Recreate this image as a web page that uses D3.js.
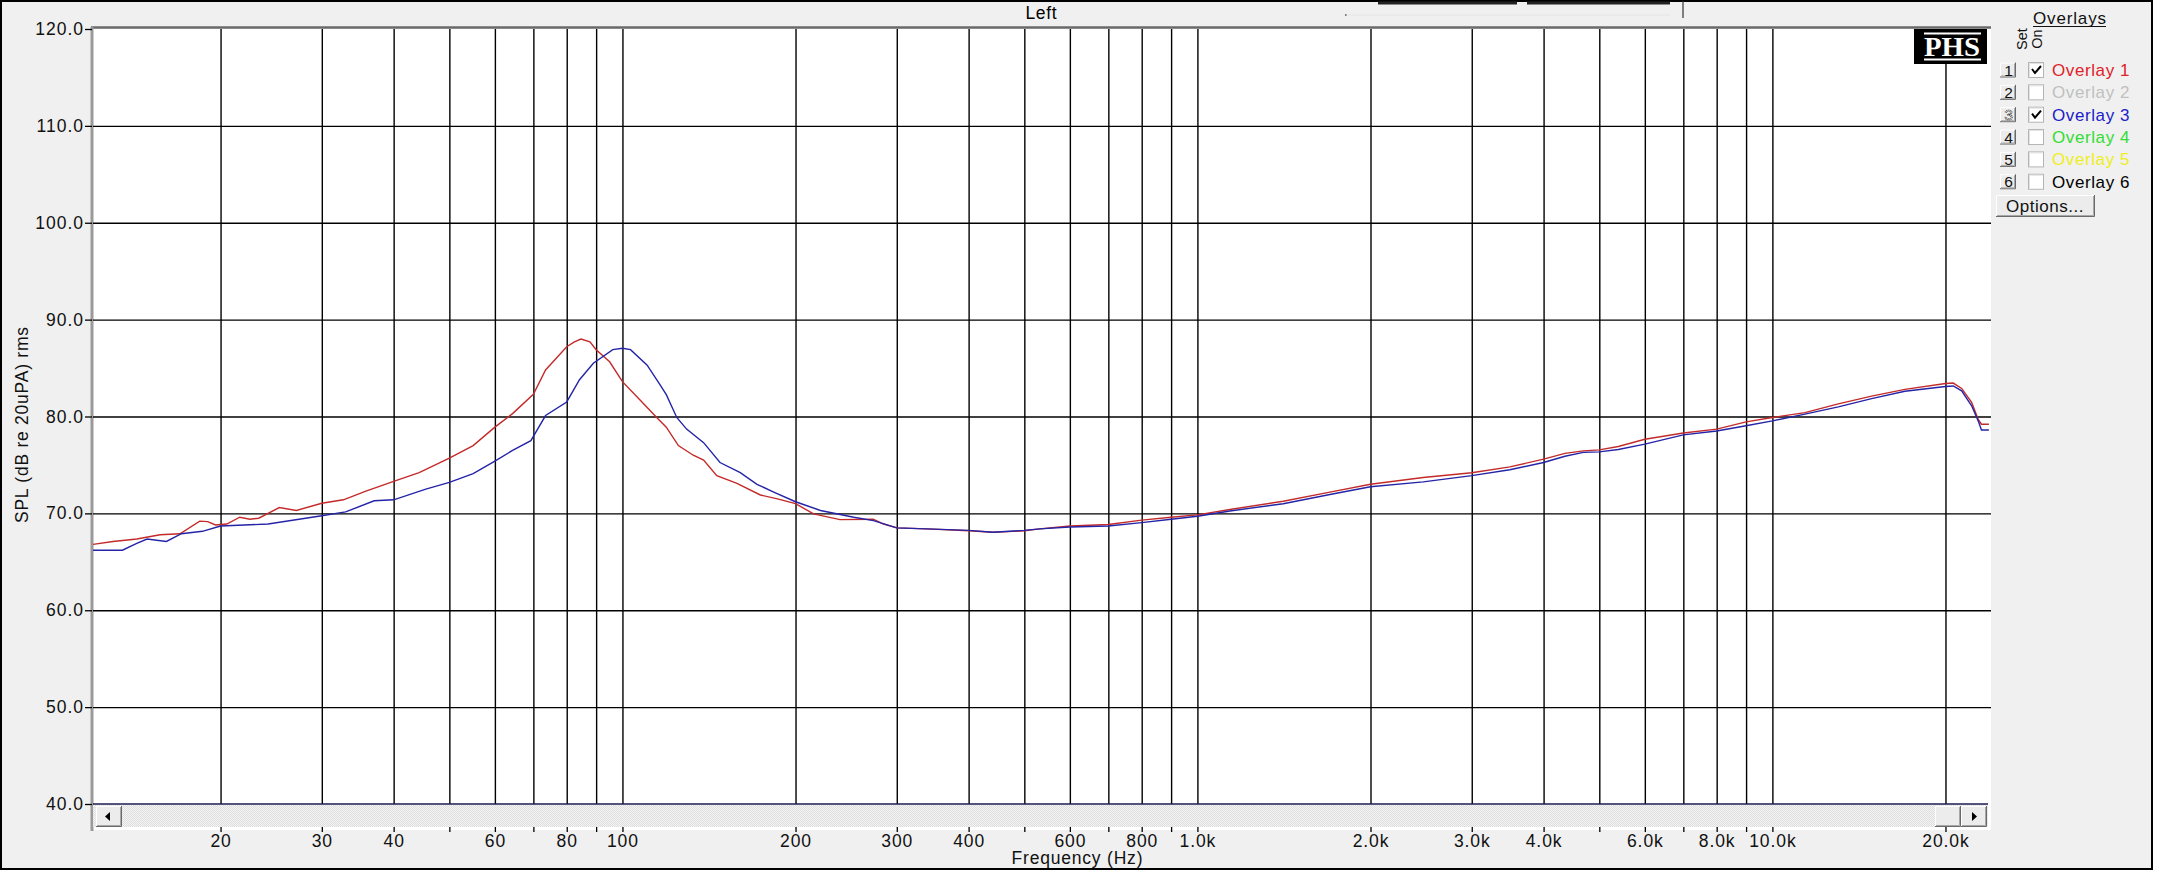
<!DOCTYPE html>
<html>
<head>
<meta charset="utf-8">
<script src="https://cdn.jsdelivr.net/npm/d3@7/dist/d3.min.js"></script>
<style>
  html, body { margin: 0; padding: 0; background: #ffffff; }
  svg { display: block; }
  text { font-family: "Liberation Sans", Arial, sans-serif; }
</style>
</head>
<body>
<svg id="chart" width="2176" height="896"></svg>
<script>
// ---------------- DATA ----------------
const gridFreqs = [20,30,40,50,60,70,80,90,100,200,300,400,500,600,700,800,900,1000,2000,3000,4000,5000,6000,7000,8000,9000,10000,20000];
const labeledFreqs = [20,30,40,60,80,100,200,300,400,600,800,1000,2000,3000,4000,6000,8000,10000,20000];
const freqTickLabels = ["20","30","40","60","80","100","200","300","400","600","800","1.0k","2.0k","3.0k","4.0k","6.0k","8.0k","10.0k","20.0k"];
const splTicks = [40,50,60,70,80,90,100,110,120];
const splTickLabels = ["40.0","50.0","60.0","70.0","80.0","90.0","100.0","110.0","120.0"];

// Overlay 1 (red)
const overlay1Freq = [12,13,14.3,15.7,17,18.4,19,19.6,20.5,21.6,22.5,23.3,25.3,27.1,30,32.7,35.8,40,44.3,50,55,60,64.4,70,73.5,80,82.5,84.7,87.8,90,95,100,107.3,114.7,119.2,125.1,132.8,138.4,145.9,158.2,173.7,186,200,215,239,273,284.5,300,338,400,441,500,532,600,700,800,900,1000,1139,1410,1700,2000,2470,3000,3495,4000,4357,4691,5000,5395,6000,7000,8000,9000,10000,11393,13020,14880,17000,20000,20630,21340,22210,22800,23100,23800];
const overlay1Spl  = [66.8,67.1,67.35,67.8,67.9,69.2,69.15,68.8,68.9,69.6,69.4,69.5,70.6,70.3,71.05,71.4,72.3,73.3,74.2,75.7,77.0,78.9,80.3,82.3,84.8,87.2,87.7,88.0,87.7,86.9,85.65,83.6,81.7,79.9,78.9,77.0,76.0,75.5,73.9,73.1,71.9,71.5,71.0,69.95,69.35,69.4,68.9,68.5,68.4,68.2,68.05,68.2,68.4,68.7,68.85,69.3,69.6,69.85,70.4,71.25,72.2,73.0,73.7,74.2,74.8,75.6,76.2,76.45,76.55,76.9,77.65,78.3,78.7,79.45,79.9,80.4,81.3,82.1,82.8,83.4,83.45,82.9,81.45,79.7,79.2,79.2];

// Overlay 3 (blue)
const overlay3Freq = [12,13.5,14.3,14.9,16.1,17.1,18.6,20,24.2,30,33,37,40,45.5,50,55,60,64.4,69.3,73.5,80,84.2,89,96.2,100,103.3,110.4,116.2,119.2,124.3,129.3,138.4,147.8,160.3,171.4,183.3,200,221,252.6,273.2,300,338,400,441,500,532,600,700,800,900,1000,1139,1410,1700,2000,2470,3000,3495,4000,4357,4691,5000,5395,6000,7000,8000,9000,10000,11393,13020,14880,17000,20000,20630,21340,22210,22800,23100,23800];
const overlay3Spl  = [66.2,66.2,66.9,67.35,67.1,67.9,68.15,68.7,68.9,69.75,70.15,71.3,71.4,72.5,73.2,74.1,75.4,76.5,77.5,80.1,81.5,83.8,85.5,86.9,87.05,86.9,85.3,83.3,82.25,79.9,78.7,77.3,75.25,74.2,73.0,72.2,71.2,70.3,69.6,69.25,68.5,68.4,68.25,68.05,68.25,68.4,68.6,68.7,69.05,69.4,69.7,70.25,71.0,71.95,72.75,73.25,73.9,74.5,75.25,75.9,76.3,76.35,76.6,77.15,78.1,78.5,79.05,79.55,80.25,81.0,81.85,82.6,83.1,83.15,82.65,81.1,79.55,78.6,78.6];

const overlayNames = ["Overlay 1","Overlay 2","Overlay 3","Overlay 4","Overlay 5","Overlay 6"];
const overlayColors = ["#e0202a","#c0c0c0","#1c1cc8","#33dd33","#eeee22","#000000"];
const overlayOn = [true,false,true,false,false,false];

// ---------------- LAYOUT ----------------
const svg = d3.select("#chart");
const L = 93, R = 1991, T = 29, B = 804;
const x = d3.scaleLog().domain([12, 24000]).range([L, R]);
const y = d3.scaleLinear().domain([40, 120]).range([B, T]);

const defs = svg.append("defs");
const pat = defs.append("pattern").attr("id","dither").attr("width",2).attr("height",2).attr("patternUnits","userSpaceOnUse");
pat.append("rect").attr("width",2).attr("height",2).attr("fill","#f4f4f4");
pat.append("rect").attr("width",1).attr("height",1).attr("fill","#dedede");
pat.append("rect").attr("x",1).attr("y",1).attr("width",1).attr("height",1).attr("fill","#dedede");
defs.append("clipPath").attr("id","plotclip").append("rect").attr("x",L).attr("y",T).attr("width",R-L).attr("height",B-T);

// outer window
svg.append("rect").attr("x",1).attr("y",1).attr("width",2151).attr("height",868)
  .attr("fill","#f0f0f0").attr("stroke","#000").attr("stroke-width",2);

// header
svg.append("text").attr("x",1041).attr("y",19).attr("text-anchor","middle")
  .attr("font-size",17.5).attr("textLength",31).attr("lengthAdjust","spacing").attr("fill","#000").text("Left");
svg.append("circle").attr("cx",1346).attr("cy",15).attr("r",1).attr("fill","#555");
svg.append("line").attr("x1",1346).attr("x2",1670).attr("y1",15).attr("y2",15).attr("stroke","#e4e4e4");
svg.append("line").attr("x1",1378).attr("x2",1517).attr("y1",3).attr("y2",3).attr("stroke","#222").attr("stroke-width",3);
svg.append("line").attr("x1",1527).attr("x2",1670).attr("y1",3).attr("y2",3).attr("stroke","#222").attr("stroke-width",3);
svg.append("line").attr("x1",1683).attr("x2",1683).attr("y1",1).attr("y2",18).attr("stroke","#333").attr("stroke-width",1.2);

// plot background (white extends under scrollbar)
svg.append("rect").attr("x",L).attr("y",T).attr("width",R-L).attr("height",830-T).attr("fill","#fff");
// plot top & left borders
svg.append("line").attr("x1",L-2).attr("x2",R).attr("y1",T-1.5).attr("y2",T-1.5).attr("stroke","#6a6a6a").attr("stroke-width",2.5);
svg.append("line").attr("x1",L-1).attr("x2",L-1).attr("y1",T-2).attr("y2",831).attr("stroke","#9a9a9a").attr("stroke-width",3);

// vertical grid
svg.append("g").attr("transform",`translate(0,${B})`)
  .call(d3.axisBottom(x).tickValues(gridFreqs).tickSize(-(B-T)).tickFormat(""))
  .call(g => { g.select(".domain").remove(); g.selectAll("line").attr("stroke","#000").attr("stroke-width",1.4); });

// horizontal grid
svg.append("g").attr("transform",`translate(${L},0)`)
  .call(d3.axisLeft(y).tickValues(splTicks.filter(v => v>40 && v<120)).tickSize(-(R-L)).tickFormat(""))
  .call(g => { g.select(".domain").remove(); g.selectAll("line").attr("stroke","#000").attr("stroke-width",1.4); });

// y axis ticks + labels
svg.append("g").attr("transform",`translate(${L-1},0)`)
  .call(d3.axisLeft(y).tickValues(splTicks).tickSize(7).tickPadding(1)
        .tickFormat(v => splTickLabels[splTicks.indexOf(v)]))
  .call(g => {
    g.select(".domain").remove();
    g.selectAll("line").attr("stroke","#000").attr("stroke-width",1.3);
    g.selectAll("text").attr("font-size",17.5).attr("letter-spacing",1).attr("fill","#111");
  });

// y axis title
svg.append("text").attr("transform","translate(28,425) rotate(-90)").attr("text-anchor","middle")
  .attr("font-size",17.5).attr("textLength",196).attr("lengthAdjust","spacing")
  .attr("fill","#111").text("SPL (dB re 20uPA) rms");

// curves
const line = d3.line().x(d => x(d[0])).y(d => y(d[1]));
const curves = svg.append("g").attr("clip-path","url(#plotclip)");
curves.append("path").datum(d3.zip(overlay1Freq, overlay1Spl))
  .attr("d", line).attr("fill","none").attr("stroke","#c42a2a").attr("stroke-width",1.4);
curves.append("path").datum(d3.zip(overlay3Freq, overlay3Spl))
  .attr("d", line).attr("fill","none").attr("stroke","#2424a8").attr("stroke-width",1.4);

// scrollbar
const sbTop = B + 1, sbBot = 827;
svg.append("rect").attr("x",L).attr("y",sbTop).attr("width",1988-L).attr("height",sbBot-sbTop).attr("fill","url(#dither)");
svg.append("line").attr("x1",L).attr("x2",1988).attr("y1",B).attr("y2",B).attr("stroke","#1a1a50").attr("stroke-width",1.5);
function button3d(g, bx, by, bw, bh) {
  g.append("rect").attr("x",bx).attr("y",by).attr("width",bw).attr("height",bh).attr("fill","#ececec");
  g.append("path").attr("d",`M${bx+0.5},${by+bh}V${by+0.5}H${bx+bw}`).attr("fill","none").attr("stroke","#fff");
  g.append("path").attr("d",`M${bx+bw-0.5},${by}V${by+bh-0.5}H${bx}`).attr("fill","none").attr("stroke","#6a6a6a");
  g.append("path").attr("d",`M${bx+bw-1.5},${by+1}V${by+bh-1.5}H${bx+1}`).attr("fill","none").attr("stroke","#a8a8a8");
}
const sb = svg.append("g");
button3d(sb, 96, sbTop+1, 26, 21);
sb.append("path").attr("d","M105,816.5 L110,812 L110,821 Z").attr("fill","#000");
button3d(sb, 1935, sbTop+1, 26, 21);
button3d(sb, 1961, sbTop+1, 26, 21);
sb.append("path").attr("d","M1972,812 L1977,816.5 L1972,821 Z").attr("fill","#000");

// x axis ticks + labels
svg.append("g").attr("transform",`translate(0,827)`)
  .call(d3.axisBottom(x).tickValues(gridFreqs).tickSize(5).tickPadding(3)
        .tickFormat(v => { const i = labeledFreqs.indexOf(v); return i >= 0 ? freqTickLabels[i] : ""; }))
  .call(g => {
    g.select(".domain").remove();
    g.selectAll("line").attr("stroke","#000").attr("stroke-width",1.3);
    g.selectAll("text").attr("font-size",17.5).attr("letter-spacing",0.9).attr("fill","#111");
  });

svg.append("text").attr("x",1077).attr("y",864).attr("text-anchor","middle")
  .attr("font-size",17.5).attr("textLength",131).attr("lengthAdjust","spacing")
  .attr("fill","#111").text("Frequency (Hz)");

// PHS logo
const logo = svg.append("g");
logo.append("rect").attr("x",1914).attr("y",29).attr("width",73).attr("height",35).attr("fill","#000");
logo.append("line").attr("x1",1924).attr("x2",1981).attr("y1",33.5).attr("y2",33.5).attr("stroke","#fff").attr("stroke-width",2);
logo.append("line").attr("x1",1924).attr("x2",1981).attr("y1",59.5).attr("y2",59.5).attr("stroke","#fff").attr("stroke-width",2);
logo.append("text").attr("x",1952).attr("y",56).attr("text-anchor","middle")
  .attr("font-weight","bold")
  .attr("font-size",27).attr("textLength",56).attr("lengthAdjust","spacingAndGlyphs")
  .attr("fill","#fff").style("font-family","'Liberation Serif','Times New Roman',serif").text("PHS");

// overlays panel
const panel = svg.append("g");
panel.append("text").attr("x",2033).attr("y",24).attr("font-size",17).attr("textLength",73).attr("lengthAdjust","spacing")
  .attr("fill","#111").text("Overlays");
panel.append("line").attr("x1",2033).attr("x2",2106).attr("y1",26.5).attr("y2",26.5).attr("stroke","#111").attr("stroke-width",1);
panel.append("text").attr("transform","translate(2027,39) rotate(-90)").attr("text-anchor","middle")
  .attr("font-size",14.5).attr("fill","#111").text("Set");
panel.append("text").attr("transform","translate(2042,39) rotate(-90)").attr("text-anchor","middle")
  .attr("font-size",14.5).attr("fill","#111").text("On");

overlayNames.forEach((name, i) => {
  const cy = 70 + i * 22.35;
  button3d(panel, 2000, cy - 7.5, 16, 15);
  const digit = panel.append("text").attr("x",2008.5).attr("y",cy + 5.5).attr("text-anchor","middle")
    .attr("font-size",15.5).text(String(i + 1));
  if (i === 2) digit.attr("fill","#d8d8d8").attr("stroke","#000").attr("stroke-width",0.7).attr("stroke-dasharray","1,1");
  else digit.attr("fill","#111");
  panel.append("rect").attr("x",2028.5).attr("y",cy - 7.5).attr("width",15).attr("height",15)
    .attr("fill","#fff").attr("stroke","#b4b4b4");
  panel.append("path").attr("d",`M${2029.5},${cy+6.5}V${cy-6.5}H${2042.5}`).attr("fill","none").attr("stroke","#e2e2e2");
  if (overlayOn[i]) {
    panel.append("path").attr("d",`M2032,${cy-1} L2035,${cy+3} L2041,${cy-4}`)
      .attr("fill","none").attr("stroke","#000").attr("stroke-width",2);
  }
  panel.append("text").attr("x",2052).attr("y",cy + 6).attr("font-size",17).attr("letter-spacing",0.6)
    .attr("fill",overlayColors[i]).text(name);
});

button3d(panel, 1996, 195, 99, 22);
panel.append("text").attr("x",2045).attr("y",212).attr("text-anchor","middle").attr("font-size",17)
  .attr("letter-spacing",0.5).attr("fill","#111").text("Options...");
</script>
</body>
</html>
